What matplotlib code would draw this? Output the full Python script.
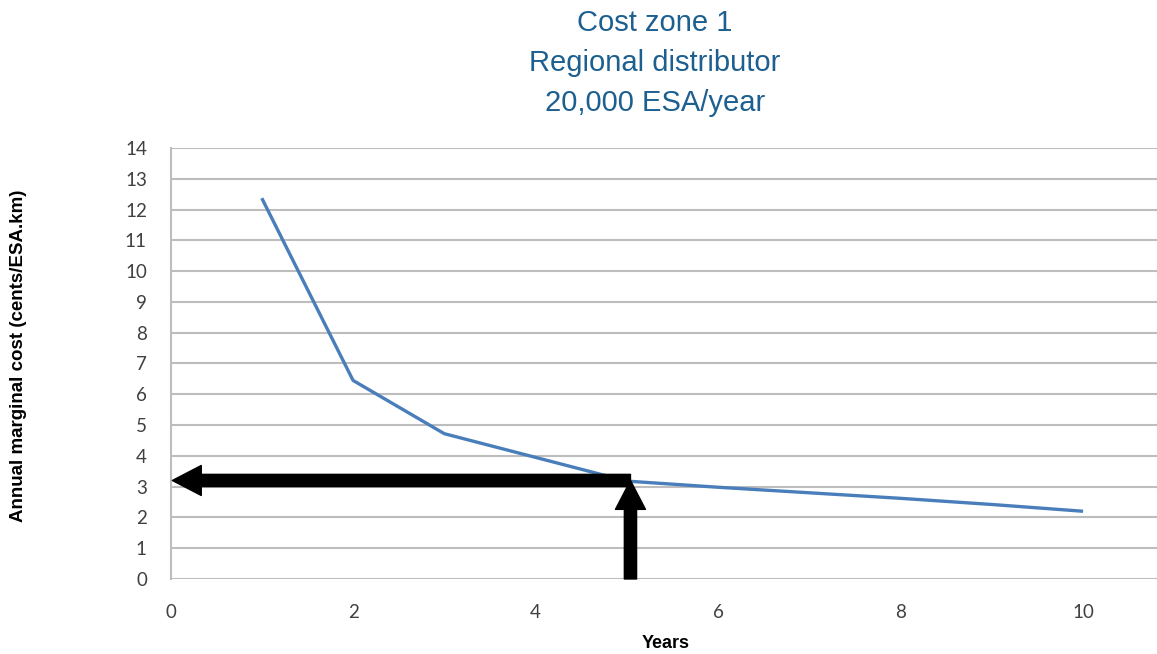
import matplotlib
matplotlib.use("Agg")
import matplotlib.pyplot as plt

years = [1, 2, 3, 4, 5, 6, 7, 8, 9, 10]
cost = [12.37, 6.45, 4.72, 3.95, 3.18, 2.98, 2.8, 2.62, 2.42, 2.2]
x_ticks = [0, 2, 4, 6, 8, 10]
y_ticks = list(range(0, 15))
read_year = 5.04
read_cost = 3.2

fig = plt.figure(figsize=(11.57, 6.54), dpi=100)
ax = fig.add_axes([0.1474, 0.1147, 0.8526, 0.659])
ax.set_xlim(0, 10.81)
ax.set_ylim(0, 14)
ax.set_xticks(x_ticks)
ax.set_yticks(y_ticks)
ax.grid(axis='y', color='#bdbdbd', linewidth=1.5)
ax.set_axisbelow(True)
for s in ['top', 'right', 'bottom']:
    ax.spines[s].set_visible(False)
ax.spines['left'].set_color('#bdbdbd')
ax.spines['left'].set_linewidth(1.5)
ax.tick_params(length=0, labelsize=13.5, labelcolor='#404040')
ax.tick_params(axis='y', pad=17)
ax.tick_params(axis='x', pad=18)
for lab in ax.get_xticklabels() + ax.get_yticklabels():
    lab.set_family('Lato')

ax.plot(years, cost, color='#4a7ebb', linewidth=2.4, solid_capstyle='butt', zorder=3)

arrow_kw = dict(arrowstyle='simple,head_width=1.35,head_length=1.3,tail_width=0.55',
                color='black', shrinkA=0, shrinkB=0, mutation_scale=16)
ax.annotate('', xy=(0.02, read_cost), xytext=(read_year, read_cost),
            arrowprops=arrow_kw, zorder=4, annotation_clip=False)
ax.annotate('', xy=(read_year, read_cost), xytext=(read_year, 0),
            arrowprops=arrow_kw, zorder=4, annotation_clip=False)

fig.text(0.566, 0.987, 'Cost zone 1\nRegional distributor\n20,000 ESA/year',
         ha='center', va='top', fontsize=21, color='#1d5f8f',
         family='Liberation Sans', linespacing=1.55)
fig.text(0.575, 0.003, 'Years', ha='center', va='bottom', fontsize=13,
         fontweight='bold', family='Liberation Sans')
fig.text(0.0156, 0.456, 'Annual marginal cost (cents/ESA.km)', rotation=90,
         ha='center', va='center', fontsize=13.5, fontweight='bold',
         family='Liberation Sans')

fig.savefig('out.png', dpi=100)
